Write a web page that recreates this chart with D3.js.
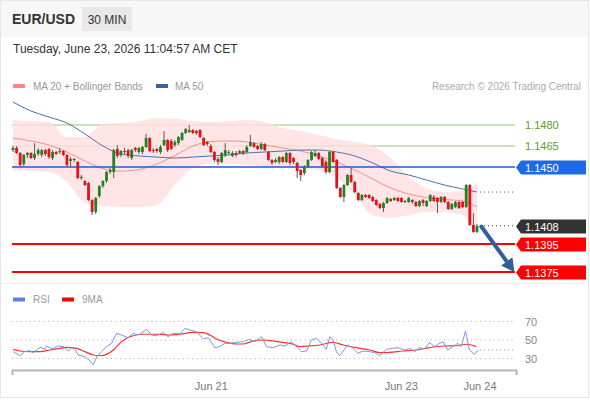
<!DOCTYPE html>
<html>
<head>
<meta charset="utf-8">
<script src="https://cdn.jsdelivr.net/npm/d3@7"></script>
<style>
  body { margin: 0; background: #fff; }
  svg { display: block; font-family: "Liberation Sans", Arial, sans-serif; }
</style>
</head>
<body>
<div id="chart"></div>
<script>
// EUR/USD 30 min candles
const opens = [1.14621,1.14636,1.14600,1.14521,1.14586,1.14600,1.14564,1.14593,1.14586,1.14621,
  1.14629,1.14564,1.14607,1.14607,1.14614,1.14586,1.14543,1.14557,1.14536,1.14421,
  1.14400,1.14386,1.14264,1.14179,1.14293,1.14364,1.14400,1.14464,1.14464,1.14629,
  1.14586,1.14614,1.14621,1.14564,1.14636,1.14607,1.14607,1.14643,1.14707,1.14621,
  1.14629,1.14607,1.14657,1.14693,1.14686,1.14657,1.14671,1.14693,1.14743,1.14750,
  1.14764,1.14757,1.14764,1.14707,1.14679,1.14650,1.14607,1.14557,1.14536,1.14586,
  1.14600,1.14579,1.14600,1.14600,1.14614,1.14607,1.14650,1.14671,1.14650,1.14629,
  1.14664,1.14607,1.14550,1.14536,1.14536,1.14571,1.14536,1.14600,1.14564,1.14529,
  1.14479,1.14457,1.14500,1.14550,1.14579,1.14600,1.14564,1.14536,1.14464,1.14607,
  1.14550,1.14350,1.14286,1.14371,1.14443,1.14393,1.14314,1.14264,1.14300,1.14300,
  1.14286,1.14264,1.14236,1.14207,1.14243,1.14271,1.14264,1.14279,1.14279,1.14257,
  1.14250,1.14264,1.14250,1.14221,1.14264,1.14221,1.14257,1.14286,1.14279,1.14250,
  1.14286,1.14250,1.14200,1.14214,1.14250,1.14250,1.14214,1.14371,1.14086,1.14036];
const highs = [1.14650,1.14650,1.14607,1.14593,1.14607,1.14607,1.14671,1.14636,1.14629,1.14629,
  1.14636,1.14621,1.14614,1.14636,1.14621,1.14593,1.14571,1.14564,1.14543,1.14443,
  1.14407,1.14393,1.14271,1.14286,1.14371,1.14407,1.14471,1.14493,1.14629,1.14657,
  1.14621,1.14636,1.14629,1.14629,1.14643,1.14643,1.14650,1.14736,1.14714,1.14636,
  1.14636,1.14657,1.14757,1.14700,1.14700,1.14693,1.14721,1.14750,1.14778,1.14800,
  1.14771,1.14764,1.14771,1.14714,1.14686,1.14664,1.14614,1.14571,1.14607,1.14671,
  1.14621,1.14614,1.14614,1.14621,1.14621,1.14657,1.14729,1.14679,1.14657,1.14679,
  1.14671,1.14614,1.14557,1.14564,1.14579,1.14579,1.14607,1.14607,1.14571,1.14536,
  1.14486,1.14514,1.14557,1.14614,1.14621,1.14607,1.14571,1.14550,1.14614,1.14614,
  1.14557,1.14357,1.14379,1.14450,1.14493,1.14400,1.14321,1.14307,1.14307,1.14307,
  1.14293,1.14271,1.14243,1.14250,1.14286,1.14279,1.14286,1.14286,1.14286,1.14264,
  1.14286,1.14271,1.14257,1.14264,1.14271,1.14264,1.14307,1.14300,1.14286,1.14293,
  1.14293,1.14257,1.14243,1.14257,1.14257,1.14257,1.14379,1.14379,1.14171,1.14093];
const lows = [1.14607,1.14593,1.14500,1.14507,1.14564,1.14557,1.14550,1.14579,1.14571,1.14579,
  1.14557,1.14550,1.14586,1.14593,1.14579,1.14500,1.14500,1.14536,1.14414,1.14407,
  1.14364,1.14257,1.14157,1.14164,1.14279,1.14350,1.14386,1.14450,1.14421,1.14564,
  1.14571,1.14593,1.14564,1.14550,1.14607,1.14593,1.14593,1.14636,1.14607,1.14600,
  1.14600,1.14593,1.14650,1.14607,1.14621,1.14643,1.14657,1.14686,1.14736,1.14743,
  1.14736,1.14729,1.14707,1.14650,1.14650,1.14600,1.14536,1.14514,1.14529,1.14571,
  1.14586,1.14571,1.14571,1.14593,1.14586,1.14600,1.14643,1.14636,1.14621,1.14621,
  1.14614,1.14543,1.14514,1.14529,1.14521,1.14529,1.14529,1.14514,1.14521,1.14421,
  1.14400,1.14443,1.14493,1.14543,1.14571,1.14550,1.14493,1.14450,1.14457,1.14529,
  1.14343,1.14279,1.14250,1.14364,1.14386,1.14314,1.14257,1.14257,1.14279,1.14271,
  1.14250,1.14221,1.14200,1.14179,1.14236,1.14250,1.14257,1.14250,1.14243,1.14243,
  1.14243,1.14236,1.14214,1.14214,1.14221,1.14214,1.14250,1.14250,1.14171,1.14243,
  1.14243,1.14193,1.14193,1.14207,1.14200,1.14207,1.14207,1.14079,1.14029,1.14029];
const closes = [1.14636,1.14600,1.14514,1.14586,1.14600,1.14564,1.14593,1.14621,1.14621,1.14593,
  1.14571,1.14607,1.14593,1.14614,1.14586,1.14514,1.14557,1.14550,1.14421,1.14429,
  1.14371,1.14264,1.14179,1.14279,1.14364,1.14400,1.14464,1.14479,1.14621,1.14579,
  1.14614,1.14607,1.14579,1.14621,1.14621,1.14636,1.14643,1.14707,1.14614,1.14614,
  1.14614,1.14643,1.14693,1.14621,1.14629,1.14679,1.14714,1.14743,1.14771,1.14764,
  1.14743,1.14743,1.14714,1.14657,1.14664,1.14607,1.14550,1.14536,1.14600,1.14621,
  1.14607,1.14600,1.14586,1.14614,1.14600,1.14643,1.14679,1.14643,1.14629,1.14664,
  1.14621,1.14550,1.14529,1.14550,1.14571,1.14536,1.14600,1.14529,1.14536,1.14471,
  1.14443,1.14500,1.14550,1.14607,1.14600,1.14557,1.14507,1.14464,1.14607,1.14536,
  1.14350,1.14286,1.14371,1.14443,1.14393,1.14321,1.14264,1.14300,1.14286,1.14279,
  1.14257,1.14229,1.14207,1.14243,1.14279,1.14257,1.14279,1.14257,1.14250,1.14250,
  1.14279,1.14250,1.14221,1.14257,1.14243,1.14257,1.14300,1.14257,1.14250,1.14286,
  1.14250,1.14200,1.14236,1.14250,1.14207,1.14214,1.14371,1.14086,1.14036,1.14079];

// moving averages, read every 5th candle
const maIdx = [0,5,10,15,20,25,30,35,40,45,50,55,60,65,70,75,80,85,90,95,100,105,110,115,120,125,129];
const ma20 = [1.14707,1.14686,1.14657,1.14607,1.14543,1.14489,1.14471,1.14482,1.14521,1.14582,
  1.14650,1.14682,1.14686,1.14679,1.14657,1.14636,1.14614,1.14579,1.14536,1.14479,
  1.14414,1.14350,1.14307,1.14282,1.14268,1.14257,1.14214];
const bbUpper = [1.14836,1.14828,1.14821,1.14714,1.14714,1.14811,1.14814,1.14828,1.14850,1.14846,
  1.14828,1.14821,1.14828,1.14836,1.14821,1.14778,1.14757,1.14729,1.14700,1.14679,
  1.14650,1.14564,1.14429,1.14350,1.14321,1.14336,1.14379];
const bbLower = [1.14479,1.14471,1.14464,1.14393,1.14243,1.14221,1.14214,1.14214,1.14229,1.14371,
  1.14493,1.14521,1.14521,1.14514,1.14507,1.14500,1.14493,1.14479,1.14421,1.14300,
  1.14157,1.14136,1.14157,1.14179,1.14179,1.14157,1.14014];
const ma50 = [1.14964,1.14900,1.14857,1.14814,1.14736,1.14650,1.14593,1.14579,1.14571,1.14564,
  1.14571,1.14579,1.14586,1.14600,1.14607,1.14614,1.14621,1.14621,1.14607,1.14579,
  1.14529,1.14471,1.14443,1.14407,1.14371,1.14343,1.14321];

// RSI and its 9 period average (position in candles, value)
const rsiIdx = [0.1,1.9,3.3,4.7,5.6,7.5,8.9,9.4,10.8,12.6,14.0,15.4,16.3,17.2,18.1,20.0,21.4,22.3,23.3,24.6,
  26.0,27.4,28.8,30.2,32.0,33.4,34.8,35.7,37.1,38.5,39.9,41.8,43.1,44.5,46.4,47.8,49.2,51.0,52.9,54.3,
  56.1,57.5,58.9,60.3,62.1,64.0,65.8,67.2,69.1,70.5,72.3,74.2,75.6,77.4,78.8,80.2,81.6,83.0,84.4,85.8,
  87.1,88.1,89.0,89.9,90.8,93.1,94.5,95.9,97.3,99.2,101.0,101.9,103.8,105.6,107.0,108.9,110.3,111.7,113.1,114.4,
  115.8,117.2,118.1,119.5,120.9,122.3,123.7,124.6,125.8,126.9,128.3,129.3];
const rsiVal = [37.4,33.0,37.4,38.4,36.3,42.1,39.9,43.5,40.3,43.5,42.8,38.1,41.7,40.3,33.8,31.9,27.3,23.0,31.9,37.4,
  42.8,46.4,57.2,55.4,52.5,57.2,55.4,57.2,61.6,55.4,54.6,58.3,53.6,57.2,56.5,62.6,60.8,59.0,51.1,52.5,
  41.7,42.8,46.4,46.4,47.5,48.2,50.8,48.2,53.6,42.8,41.7,44.6,43.5,48.2,42.8,37.4,38.1,50.0,51.8,46.4,
  39.9,53.6,50.0,37.4,33.0,44.6,41.0,35.6,38.1,37.4,35.6,33.0,39.9,41.0,41.7,39.2,41.0,37.4,41.7,40.3,
  47.5,42.8,45.4,48.2,39.2,42.8,46.4,42.8,59.7,39.2,34.5,39.2];
const rsiMaIdx = [0.1,1.9,4.7,7.5,10.3,13.1,14.9,17.7,20.0,22.3,24.2,26.0,27.9,29.7,31.6,33.4,36.2,39.9,43.6,46.4,
  50.1,52.9,54.7,56.6,59.4,62.1,64.0,66.8,69.5,72.3,75.1,77.9,79.7,82.5,85.3,89.0,91.8,95.5,99.2,101.9,
  104.7,108.4,112.1,115.8,119.5,123.2,126.0,128.8];
const rsiMaVal = [39.9,38.1,37.4,37.4,39.2,41.0,42.1,41.0,37.4,33.8,33.0,34.5,39.2,46.4,51.8,54.6,56.2,56.2,55.4,56.2,
  58.3,57.9,55.4,51.1,47.5,45.7,45.7,48.9,50.0,48.9,47.5,45.4,42.8,43.5,44.6,47.5,44.6,41.7,39.2,36.3,
  36.7,38.1,39.2,41.7,43.5,43.8,45.4,42.8];

// Trading Central levels
const resistances = [1.1480, 1.1465];
const pivot = 1.1450;
const supports = [1.1395, 1.1375];
const lastPrice = 1.1408;
const rsiLevels = [70, 50, 30];

const xTickIdx = [55, 107.8, 129.7];
const xTickLabels = ["Jun 21", "Jun 23", "Jun 24"];

const W = 590, H = 400;
const lineEnd = 515;

const svg = d3.select("#chart").append("svg")
  .attr("width", W)
  .attr("height", H);

// frame + header strip
svg.append("rect").attr("x", 0.5).attr("y", 0.5).attr("width", W - 2).attr("height", H - 3)
  .attr("fill", "#fff").attr("stroke", "#e6e6e6");
svg.append("rect").attr("x", 1).attr("y", 1).attr("width", W - 3).attr("height", 36).attr("fill", "#f7f7f7");

svg.append("text").attr("x", 12).attr("y", 24)
  .attr("font-size", 14).attr("font-weight", "bold").attr("fill", "#333").text("EUR/USD");
svg.append("rect").attr("x", 82).attr("y", 7).attr("width", 50).attr("height", 24).attr("fill", "#e8e8e8");
svg.append("text").attr("x", 107).attr("y", 23.5).attr("text-anchor", "middle")
  .attr("font-size", 12).attr("fill", "#333").text("30 MIN");
svg.append("text").attr("x", 13).attr("y", 53)
  .attr("font-size", 12).attr("fill", "#333").text("Tuesday, June 23, 2026 11:04:57 AM CET");

// legend
svg.append("rect").attr("x", 13).attr("y", 84).attr("width", 12).attr("height", 4).attr("fill", "#ff8585");
svg.append("text").attr("x", 33).attr("y", 89.5).attr("font-size", 10).attr("fill", "#999")
  .text("MA 20 + Bollinger Bands");
svg.append("rect").attr("x", 156).attr("y", 84).attr("width", 12).attr("height", 4).attr("fill", "#3a62a0");
svg.append("text").attr("x", 175).attr("y", 89.5).attr("font-size", 10).attr("fill", "#999").text("MA 50");
svg.append("text").attr("x", 581).attr("y", 89.5).attr("text-anchor", "end")
  .attr("font-size", 10).attr("fill", "#aaa").text("Research \u00a9 2026 Trading Central");

// scales
const x = d3.scaleLinear().domain([0, closes.length - 1]).range([13, 477]);
const y = d3.scaleLinear().domain([1.1375, 1.1480]).range([272, 125]);
const yr = d3.scaleLinear().domain([30, 70]).range([358.5, 321.5]);
const fmt = d3.format(".4f");

// panel separator
svg.append("line").attr("x1", 1).attr("x2", W - 2).attr("y1", 283.5).attr("y2", 283.5).attr("stroke", "#eeeeee");

// resistance lines
resistances.forEach(function (r) {
  svg.append("line").attr("x1", 12).attr("x2", lineEnd).attr("y1", y(r)).attr("y2", y(r))
    .attr("stroke", "#bcdc9a").attr("stroke-width", 1.5);
  svg.append("text").attr("x", 525).attr("y", y(r) + 4).attr("font-size", 11)
    .attr("fill", "#5c9e1e").text(fmt(r));
});

// bollinger band
const pts = maIdx.map(function (d, i) { return { i: d, up: bbUpper[i], lo: bbLower[i], m20: ma20[i], m50: ma50[i] }; });
svg.append("path").datum(pts)
  .attr("d", d3.area().curve(d3.curveMonotoneX)
    .x(function (d) { return x(d.i); })
    .y0(function (d) { return y(d.lo); })
    .y1(function (d) { return y(d.up); }))
  .attr("fill", "#ffdede").attr("opacity", 0.8);

svg.append("path").datum(pts)
  .attr("d", d3.line().curve(d3.curveMonotoneX)
    .x(function (d) { return x(d.i); })
    .y(function (d) { return y(d.m20); }))
  .attr("fill", "none").attr("stroke", "#f49090").attr("stroke-width", 1);

svg.append("path").datum(pts)
  .attr("d", d3.line().curve(d3.curveMonotoneX)
    .x(function (d) { return x(d.i); })
    .y(function (d) { return y(d.m50); }))
  .attr("fill", "none").attr("stroke", "#4a70ad").attr("stroke-width", 1);

// pivot + supports
svg.append("line").attr("x1", 12).attr("x2", lineEnd).attr("y1", y(pivot)).attr("y2", y(pivot))
  .attr("stroke", "#1f58d6").attr("stroke-width", 1.3);
supports.forEach(function (s) {
  svg.append("line").attr("x1", 12).attr("x2", lineEnd).attr("y1", y(s)).attr("y2", y(s))
    .attr("stroke", "#ff0000").attr("stroke-width", 2);
});

// candles
const candles = closes.map(function (c, i) {
  return { i: i, o: opens[i], h: highs[i], l: lows[i], c: c };
});
const bw = 2.8;
const cg = svg.append("g");
cg.selectAll("line.wick").data(candles).join("line")
  .attr("class", "wick")
  .attr("x1", function (d) { return x(d.i); })
  .attr("x2", function (d) { return x(d.i); })
  .attr("y1", function (d) { return y(d.h); })
  .attr("y2", function (d) { return y(d.l); })
  .attr("stroke", "#5a5a5a").attr("stroke-width", 1);
cg.selectAll("rect").data(candles).join("rect")
  .attr("x", function (d) { return x(d.i) - bw / 2; })
  .attr("y", function (d) { return y(Math.max(d.o, d.c)); })
  .attr("width", bw)
  .attr("height", function (d) { return Math.max(1, Math.abs(y(d.o) - y(d.c))); })
  .attr("fill", function (d) { return d.c >= d.o ? "#1f8420" : "#e5121a"; });

// dotted extensions
const last = closes.length - 1;
svg.append("line").attr("x1", x(last) + 3).attr("x2", lineEnd)
  .attr("y1", y(ma50[ma50.length - 1])).attr("y2", y(ma50[ma50.length - 1]))
  .attr("stroke", "#3a5a90").attr("stroke-dasharray", "1,3");
svg.append("line").attr("x1", x(last) + 3).attr("x2", lineEnd)
  .attr("y1", y(lastPrice)).attr("y2", y(lastPrice))
  .attr("stroke", "#333").attr("stroke-dasharray", "1,3");

// price tags on the right
function tag(v, fill) {
  const yy = Math.round(y(v)) + 0.5;
  svg.append("path")
    .attr("d", "M516," + yy + "L521," + (yy - 7) + "H586V" + (yy + 7) + "H521Z")
    .attr("fill", fill);
  svg.append("text").attr("x", 525).attr("y", yy + 4).attr("font-size", 11)
    .attr("fill", "#fff").text(fmt(v));
}
tag(pivot, "#1e6ae6");
tag(lastPrice, "#333333");
supports.forEach(function (s) { tag(s, "#ff0000"); });

// forecast arrow
const ax0 = x(last + 1.2), ay0 = y(lastPrice - 0.00005);
const ax1 = x(last + 10.4), ay1 = y(supports[1]);
const dx = ax1 - ax0, dy = ay1 - ay0, len = Math.sqrt(dx * dx + dy * dy);
const ux = dx / len, uy = dy / len;
const hl = 13, hw = 7;
svg.append("line").attr("x1", ax0).attr("y1", ay0)
  .attr("x2", ax1 - ux * (hl - 2)).attr("y2", ay1 - uy * (hl - 2))
  .attr("stroke", "#2f5f9e").attr("stroke-width", 4).attr("stroke-linecap", "round");
svg.append("path")
  .attr("d", "M" + ax1 + "," + ay1 +
    "L" + (ax1 - ux * hl - uy * hw) + "," + (ay1 - uy * hl + ux * hw) +
    "L" + (ax1 - ux * hl + uy * hw) + "," + (ay1 - uy * hl - ux * hw) + "Z")
  .attr("fill", "#2f5f9e");

// RSI panel
svg.append("rect").attr("x", 13).attr("y", 297.5).attr("width", 12).attr("height", 4).attr("fill", "#5b80dd");
svg.append("text").attr("x", 33).attr("y", 303).attr("font-size", 10).attr("fill", "#999").text("RSI");
svg.append("rect").attr("x", 62).attr("y", 297.5).attr("width", 12).attr("height", 4).attr("fill", "#ff0000");
svg.append("text").attr("x", 82).attr("y", 303).attr("font-size", 10).attr("fill", "#999").text("9MA");

rsiLevels.forEach(function (lv) {
  svg.append("line").attr("x1", 12).attr("x2", lineEnd).attr("y1", yr(lv)).attr("y2", yr(lv))
    .attr("stroke", "#aaa").attr("stroke-dasharray", "1,3.5");
  svg.append("text").attr("x", 525).attr("y", yr(lv) + 4).attr("font-size", 11)
    .attr("fill", "#888").text(lv);
});

svg.append("path").datum(rsiMaIdx.map(function (d, i) { return [d, rsiMaVal[i]]; }))
  .attr("d", d3.line().curve(d3.curveMonotoneX)
    .x(function (d) { return x(d[0]); })
    .y(function (d) { return yr(d[1]); }))
  .attr("fill", "none").attr("stroke", "#ff3030").attr("stroke-width", 1.2);

svg.append("path").datum(rsiIdx.map(function (d, i) { return [d, rsiVal[i]]; }))
  .attr("d", d3.line()
    .x(function (d) { return x(d[0]); })
    .y(function (d) { return yr(d[1]); }))
  .attr("fill", "none").attr("stroke", "#7b96e6").attr("stroke-width", 1);

svg.append("line").attr("x1", x(rsiIdx[rsiIdx.length - 1]) + 2).attr("x2", lineEnd)
  .attr("y1", yr(rsiVal[rsiVal.length - 1])).attr("y2", yr(rsiVal[rsiVal.length - 1]))
  .attr("stroke", "#7b96e6").attr("stroke-dasharray", "1,3");

// time axis
const xa = d3.scaleLinear().domain([x.invert(12), x.invert(516)]).range([12, 516]);
const axis = svg.append("g").attr("transform", "translate(0,370)")
  .call(d3.axisBottom(xa)
    .tickValues(xTickIdx)
    .tickFormat(function (d, i) { return xTickLabels[i]; })
    .tickSizeInner(0)
    .tickSizeOuter(5)
    .tickPadding(12));
axis.select(".domain").attr("stroke", "#b5b5b5").attr("stroke-width", 2);
axis.selectAll("text").attr("font-size", 11).attr("fill", "#777")
  .attr("font-family", "'Liberation Sans', Arial, sans-serif");
</script>
</body>
</html>
